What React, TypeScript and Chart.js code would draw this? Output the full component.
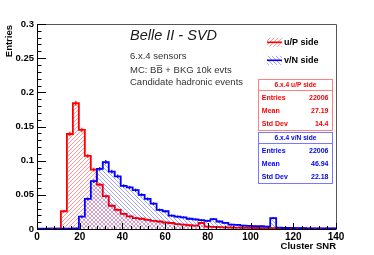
import React, { useEffect, useRef } from "react";
import { Chart, registerables } from "chart.js";
Chart.register(...registerables);

// ---- data ----
const X_MIN = 0;
const X_MAX = 140;
const BIN_WIDTH = 2.8; // 50 bins over 0..140
const Y_MAX = 0.3;
const X_STEP = 20;
const Y_STEP = 0.05;
const ENTRIES = 22006;

const uPSide = [
  0, 0, 0.0005, 0.0005, 0.026, 0.139, 0.184, 0.145, 0.107, 0.087,
  0.065, 0.048, 0.034, 0.028, 0.022, 0.0185, 0.016, 0.015, 0.0135, 0.012,
  0.011, 0.0095, 0.0088, 0.0072, 0.0065, 0.0055, 0.005, 0.0088, 0.0035, 0.003,
  0.0028, 0.0025, 0.0022, 0.002, 0.0018, 0.0016, 0.0015, 0.0013, 0.0012, 0.0012,
  0.001, 0.001, 0.0008, 0.0008, 0.0007, 0.0006, 0.0005, 0.0005, 0.0004, 0.0004,
];
const vNSide = [
  0.0004, 0.0004, 0.0004, 0.0004, 0.0004, 0.0005, 0.0008, 0.018, 0.044, 0.07,
  0.088, 0.098, 0.084, 0.077, 0.063, 0.061, 0.057, 0.05, 0.044, 0.037,
  0.028, 0.026, 0.0195, 0.018, 0.017, 0.015, 0.014, 0.013, 0.012, 0.0145,
  0.011, 0.009, 0.0065, 0.006, 0.005, 0.0045, 0.004, 0.004, 0.0035, 0.016,
  0.002, 0.0015, 0.0015, 0.0012, 0.0012, 0.001, 0.001, 0.0009, 0.0008, 0.0008,
];

const titleText = "Belle II - SVD";
const infoLines = ["6.x.4 sensors", "MC: BB\u0305 + BKG 10k evts", "Candidate hadronic events"];
const legendLabels = ["u/P side", "v/N side"];
const xTitle = "Cluster SNR";
const yTitle = "Entries";
const statsTitles = ["6.x.4 u/P side", "6.x.4 v/N side"];
const statsNames = ["Entries", "Mean", "Std Dev"];
const statsU = ["22006", "27.19", "14.4"];
const statsV = ["22006", "46.94", "22.18"];

const RED = "#ff0000";
const BLUE = "#0000ff";
const FONT = "'Liberation Sans', Arial, Helvetica, sans-serif";

function stepPoints(vals: number[]) {
  const pts: { x: number; y: number }[] = [{ x: X_MIN, y: 0 }];
  vals.forEach((v, i) => pts.push({ x: X_MIN + i * BIN_WIDTH, y: v }));
  pts.push({ x: X_MAX, y: vals[vals.length - 1] });
  pts.push({ x: X_MAX, y: 0 });
  return pts;
}
function centerPoints(vals: number[]) {
  return vals.map((v, i) => ({ x: X_MIN + (i + 0.5) * BIN_WIDTH, y: v }));
}

function makePattern(color: string, dir: 1 | -1, alpha: number): CanvasPattern | string {
  const s = 4;
  const c = document.createElement("canvas");
  c.width = s;
  c.height = s;
  const g = c.getContext("2d");
  if (!g) return color;
  g.globalAlpha = alpha;
  g.strokeStyle = color;
  g.lineWidth = 0.8;
  g.beginPath();
  if (dir === 1) {
    g.moveTo(0, s); g.lineTo(s, 0);
    g.moveTo(-s, s); g.lineTo(0, 0);
    g.moveTo(s, 2 * s); g.lineTo(2 * s, s);
  } else {
    g.moveTo(0, 0); g.lineTo(s, s);
    g.moveTo(-s, 0); g.lineTo(0, s);
    g.moveTo(s, 0); g.lineTo(2 * s, s);
  }
  g.stroke();
  const p = g.createPattern(c, "repeat");
  return p || color;
}

export default function App() {
  const ref = useRef<HTMLCanvasElement | null>(null);

  useEffect(() => {
    const canvas = ref.current;
    if (!canvas) return;
    const redPat = makePattern(RED, 1, 0.5);
    const bluePat = makePattern(BLUE, -1, 0.45);

    const overlay = {
      id: "rootOverlay",
      afterDraw(chart: any) {
        const ctx = chart.ctx as CanvasRenderingContext2D;
        const { left, right, top, bottom } = chart.chartArea;
        const xs = chart.scales.x;
        const ys = chart.scales.y;
        ctx.save();
        // frame
        ctx.lineWidth = 1;
        ctx.strokeStyle = "#555";
        ctx.beginPath();
        ctx.moveTo(left, top + 0.5);
        ctx.lineTo(right + 0.5, top + 0.5);
        ctx.lineTo(right + 0.5, bottom);
        ctx.stroke();
        ctx.strokeStyle = "#000";
        ctx.beginPath();
        ctx.moveTo(left + 0.5, top);
        ctx.lineTo(left + 0.5, bottom + 0.5);
        ctx.lineTo(right + 0.5, bottom + 0.5);
        ctx.stroke();
        // y ticks
        ctx.beginPath();
        for (let k = 0; k <= 30; k++) {
          const v = k * 0.01;
          const py = Math.round(ys.getPixelForValue(v)) + 0.5;
          const len = k % 5 === 0 ? 9 : 4.5;
          ctx.moveTo(left, py);
          ctx.lineTo(left + len, py);
        }
        // x ticks
        for (let k = 0; k <= 35; k++) {
          const v = k * 4;
          const px = Math.round(xs.getPixelForValue(v)) + 0.5;
          const len = k % 5 === 0 ? 6 : 3;
          ctx.moveTo(px, bottom);
          ctx.lineTo(px, bottom - len);
        }
        ctx.stroke();

        // axis titles
        ctx.fillStyle = "#000";
        ctx.font = `bold 9.5px ${FONT}`;
        ctx.textBaseline = "middle";
        ctx.textAlign = "right";
        ctx.fillText(xTitle, right, 246.5);
        ctx.save();
        ctx.translate(9.5, top + 1);
        ctx.rotate(-Math.PI / 2);
        ctx.textAlign = "right";
        ctx.fillText(yTitle, 0, 0);
        ctx.restore();

        // annotations
        ctx.textAlign = "left";
        ctx.fillStyle = "#1a1a1a";
        ctx.font = `italic 14.5px ${FONT}`;
        ctx.fillText(titleText, 130, 36);
        ctx.fillStyle = "#333";
        ctx.font = `9.5px ${FONT}`;
        const ly = [56.7, 70, 82.3];
        infoLines.forEach((t, i) => ctx.fillText(t, 130, ly[i]));

        // legend
        const legY = [42.3, 60.3];
        const pats = [redPat, bluePat];
        const cols = [RED, BLUE];
        legendLabels.forEach((t, i) => {
          const yc = legY[i];
          ctx.fillStyle = pats[i] as any;
          ctx.fillRect(267, yc - 4.5, 15, 9);
          ctx.strokeStyle = cols[i];
          ctx.lineWidth = 1.6;
          ctx.beginPath();
          ctx.moveTo(267, yc);
          ctx.lineTo(282, yc);
          ctx.stroke();
          ctx.fillStyle = "#000";
          ctx.font = `bold 9px ${FONT}`;
          ctx.textAlign = "left";
          ctx.fillText(t, 284, yc);
        });

        // stats boxes
        const drawStats = (y0: number, border: string, color: string, title: string, vals: string[]) => {
          const x0 = 258.5, w = 74, h = 51;
          ctx.fillStyle = "#fff";
          ctx.fillRect(x0, y0, w, h);
          ctx.strokeStyle = border;
          ctx.lineWidth = 1;
          ctx.strokeRect(x0, y0, w, h);
          ctx.beginPath();
          ctx.moveTo(x0, y0 + 11);
          ctx.lineTo(x0 + w, y0 + 11);
          ctx.stroke();
          ctx.fillStyle = color;
          ctx.font = `bold 6.6px ${FONT}`;
          ctx.textAlign = "center";
          ctx.fillText(title, x0 + w / 2, y0 + 6);
          ctx.font = `bold 7px ${FONT}`;
          const ry = [18.8, 31.2, 44.2];
          statsNames.forEach((n, i) => {
            ctx.textAlign = "left";
            ctx.fillText(n, x0 + 3.3, y0 + ry[i]);
            ctx.textAlign = "right";
            ctx.fillText(vals[i], x0 + w - 4, y0 + ry[i]);
          });
        };
        drawStats(79.5, "#ff8080", RED, statsTitles[0], statsU);
        drawStats(132.5, "#7777ff", BLUE, statsTitles[1], statsV);
        ctx.restore();
      },
    };

    const errRadius = (ctx: any) => {
      const v = ctx.raw ? ctx.raw.y : 0;
      const ys = ctx.chart.scales && ctx.chart.scales.y;
      if (!ys || !v) return 0;
      const err = Math.sqrt(v * ENTRIES) / ENTRIES;
      return Math.abs(ys.getPixelForValue(0) - ys.getPixelForValue(err)) + 0.5;
    };

    const fmt = (v: any) => String(Number(Number(v).toFixed(3)));

    const chart = new Chart(canvas, {
      type: "line",
      data: {
        datasets: [
          {
            label: "errU",
            data: centerPoints(uPSide),
            showLine: false,
            pointStyle: "line",
            rotation: 90,
            pointRadius: errRadius,
            borderColor: RED,
            borderWidth: 1.2,
            order: 0,
          } as any,
          {
            label: "errV",
            data: centerPoints(vNSide),
            showLine: false,
            pointStyle: "line",
            rotation: 90,
            pointRadius: errRadius,
            borderColor: BLUE,
            borderWidth: 1.2,
            order: 0,
          } as any,
          {
            label: legendLabels[1],
            data: stepPoints(vNSide),
            stepped: true,
            fill: "origin",
            backgroundColor: bluePat as any,
            borderColor: BLUE,
            borderWidth: 1.8,
            pointRadius: 0,
            order: 1,
          },
          {
            label: legendLabels[0],
            data: stepPoints(uPSide),
            stepped: true,
            fill: "origin",
            backgroundColor: redPat as any,
            borderColor: RED,
            borderWidth: 1.8,
            pointRadius: 0,
            order: 2,
          },
        ],
      },
      options: {
        responsive: false,
        animation: false,
        devicePixelRatio: 1,
        events: [],
        layout: { padding: { top: 24, right: 38, left: 0, bottom: 0 } },
        plugins: { legend: { display: false }, tooltip: { enabled: false } },
        scales: {
          x: {
            type: "linear",
            min: X_MIN,
            max: X_MAX,
            grid: { display: false, drawTicks: false },
            border: { display: false },
            ticks: {
              stepSize: X_STEP,
              autoSkip: false,
              maxRotation: 0,
              padding: 2,
              color: "#000",
              font: { family: FONT, size: 10, weight: "bold" },
              callback: fmt,
            },
            afterFit: (s: any) => { s.height = 26; },
          },
          y: {
            type: "linear",
            min: 0,
            max: Y_MAX,
            grid: { display: false, drawTicks: false },
            border: { display: false },
            ticks: {
              stepSize: Y_STEP,
              padding: 3,
              color: "#000",
              font: { family: FONT, size: 9.5, weight: "bold" },
              callback: fmt,
            },
            afterFit: (s: any) => { s.width = 37; },
          },
        },
      },
      plugins: [overlay],
    });
    return () => chart.destroy();
  }, []);

  return (
    <div style={{ position: "absolute", left: 0, top: 0, width: 374, height: 255, background: "#fff" }}>
      <canvas ref={ref} width={374} height={255} style={{ display: "block" }} />
    </div>
  );
}
